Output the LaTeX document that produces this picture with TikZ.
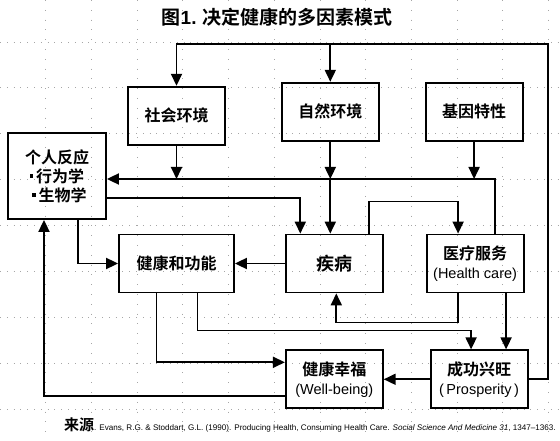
\documentclass[tikz,border=0pt]{standalone}
\usepackage{fontspec}
\setmainfont{Liberation Sans}
\newfontfamily\cjk{Noto Sans CJK SC}[BoldFont={Noto Sans CJK SC Bold}]
\usetikzlibrary{arrows.meta,positioning}
\newcommand{\bul}{\rule[4.5pt]{3.5pt}{3.5pt}\,}
\newcommand{\enf}{\rmfamily\mdseries\fontsize{14.5}{19}\selectfont}

\begin{document}
\begin{tikzpicture}[x=1pt, y=-1pt, font=\cjk\bfseries\fontsize{16}{19}\selectfont]
\tikzstyle{box}=[rectangle, draw, line width=1.8pt, minimum width=97pt, minimum height=58pt, inner sep=2pt, align=center]
\tikzstyle{arr}=[line width=1.8pt, -{Triangle[length=12pt,width=11pt]}]
\tikzstyle{gridln}=[gray!70, line width=0.8pt, dash pattern=on 0.8pt off 6pt]
\useasboundingbox (0,0) rectangle (560,441);
% background grid
\foreach \k in {0,...,8} \draw[gridln] (0,{42+45.9*\k}) -- (560,{42+45.9*\k});
\foreach \k in {1,...,12} \draw[gridln, dash pattern=on 0.8pt off 9pt] ({45.7*\k},0) -- ({45.7*\k},441);
% nodes
\node[font=\cjk\bfseries\fontsize{19}{19}\selectfont] (title) at (277,17) {图{\rmfamily 1.} 决定健康的多因素模式};
\node[box, minimum width=115pt] (fun) at (176.5,263.5) {健康和功能};
\node[box, right=50pt of fun, font=\cjk\bfseries\fontsize{18}{19}\selectfont] (dis) {疾病};
\node[box, right=42pt of dis] (care) {医疗服务\\{\enf (Health care)}};
\node[box, above=88pt of fun] (soc) {社会环境};
\node[box, above=92pt of dis, xshift=-4pt] (nat) {自然环境};
\node[box, above=92pt of care, xshift=-1pt] (gen) {基因特性};
\node[box, minimum width=98pt, minimum height=86pt] (ind) at (57,176) {个人反应\\\bul 行为学\\\hspace*{5pt}\bul 生物学};
\node[box, below=56pt of dis] (well) {健康幸福\\{\enf (Well-being)}};
\node[box, below=56pt of care, xshift=4pt] (pros) {成功兴旺\\{\enf (\,Prosperity\,)}};
\node[anchor=base west, inner sep=0pt] (src) at (64,430) {{\fontsize{15}{15}\selectfont 来源}{\rmfamily\mdseries\fontsize{8.1}{9}\selectfont. Evans, R.G. \& Stoddart, G.L. (1990). Producing Health, Consuming Health Care. \textit{Social Science And Medicine 31}, 1347--1363.}};
% connectors
\coordinate (tr) at (548,44);
\coordinate (fb) at ([yshift=-3pt]ind.east);
\draw[arr] (pros.east) -| (tr) -| (soc.north);
\draw[arr] (nat.north |- tr) -- (nat.north);
\draw[arr] ([xshift=20pt]care.north) |- (fb);
\draw[arr] (soc.south) -- (soc.south |- fb);
\draw[arr] (nat.south) -- (nat.south |- fb);
\draw[arr] (nat.south |- fb) -- (nat.south |- dis.north);
\draw[arr] (gen.south) -- (gen.south |- fb);
\draw[arr] ([yshift=-22pt]ind.east) -| ([xshift=-34pt]dis.north);
\draw[arr] ([xshift=35pt]dis.north) -- ++(0pt,32pt) -| ([xshift=-17pt]care.north);
\draw[arr] ([xshift=21pt]ind.south) |- (fun.west);
\draw[arr] (dis.west) -- (fun.east);
\draw[arr] ([xshift=-20pt]fun.south) |- ([yshift=17pt]well.west);
\draw[arr] ([xshift=21pt]fun.south) -- ++(0pt,-37pt) -| ([xshift=-8pt]pros.north);
\draw[arr] ([xshift=31pt]care.south) -- ([xshift=31pt]care.south |- pros.north);
\draw[arr] ([xshift=-17pt]care.south) -- ++(0pt,-29pt) -| ([xshift=2pt]dis.south);
\draw[arr] (pros.west) -- (well.east);
\draw[arr] ([yshift=-17pt]well.west) -| ([xshift=-13pt]ind.south);
\end{tikzpicture}
\end{document}
